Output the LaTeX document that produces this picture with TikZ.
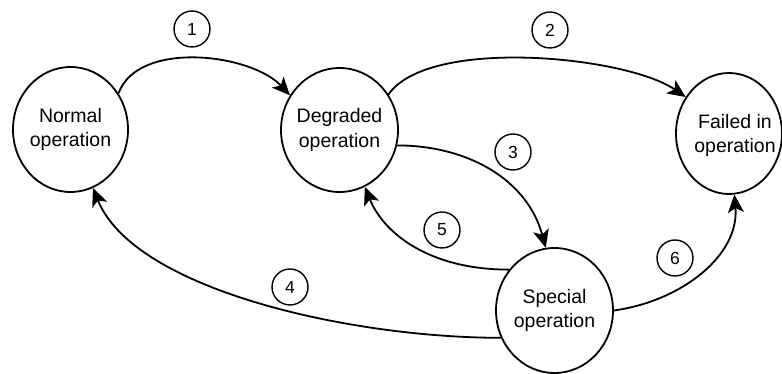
\documentclass[tikz,border=0pt]{standalone}
\usepackage{fontspec}
\setmainfont{Liberation Sans}
\usetikzlibrary{shapes.geometric, arrows.meta}
\begin{document}
\begin{tikzpicture}[x=1pt, y=1pt,
  state/.style={ellipse, draw, line width=1.8pt, inner sep=0pt},
  statetext/.style={align=center, inner sep=0pt,
    font=\fontsize{19.5}{24.5}\selectfont},
  tag/.style={circle, draw, line width=1.4pt, minimum size=36pt, inner sep=0pt,
    font=\fontsize{17.5}{20}\selectfont},
  flow/.style={line width=1.8pt,
    -{Stealth[length=18pt, width=16pt, inset=4.5pt]}}
]
\useasboundingbox (0,0) rectangle (782,374);

% operating states
\node[state, minimum width=115pt, minimum height=125pt,
  label={[statetext]center:{Normal\\operation}}] (normal) at (70.5,244.5) {};
\node[state, minimum width=117pt, minimum height=124pt,
  label={[statetext]center:{Degraded\\operation}}] (degraded) at (339.5,244) {};
\node[state, minimum width=106pt, minimum height=121pt,
  label={[statetext, xshift=6pt, yshift=-2pt]center:{Failed in\\operation}}] (failed) at (729,240.5) {};
\node[state, minimum width=117pt, minimum height=125pt,
  label={[statetext]center:{Special\\operation}}] (special) at (554.5,63.5) {};

% transitions
\draw[flow] (normal.37) to[out=70, in=133, looseness=0.85] (degraded.145);
\draw[flow] (degraded.36) to[out=55, in=145, looseness=0.61] (failed.140);
\draw[flow] (degraded.-15) to[out=0, in=105] (special.98);
\draw[flow] (special.207) .. controls +(180:150) and +(-68:110) .. (normal.-69);
\draw[flow] (special.138) .. controls +(180:80) and +(-68:50) .. (degraded.-66);
\draw[flow] (special.east) .. controls +(8:70) and +(-85:60) .. (failed.-85);

% transition numbers
\node[tag] (t1) at (192,345) {1};
\node[tag] (t2) at (550,344) {2};
\node[tag] (t3) at (513,222) {3};
\node[tag] (t4) at (290,87) {4};
\node[tag] (t5) at (442,144) {5};
\node[tag] (t6) at (675,116) {6};
\end{tikzpicture}
\end{document}
